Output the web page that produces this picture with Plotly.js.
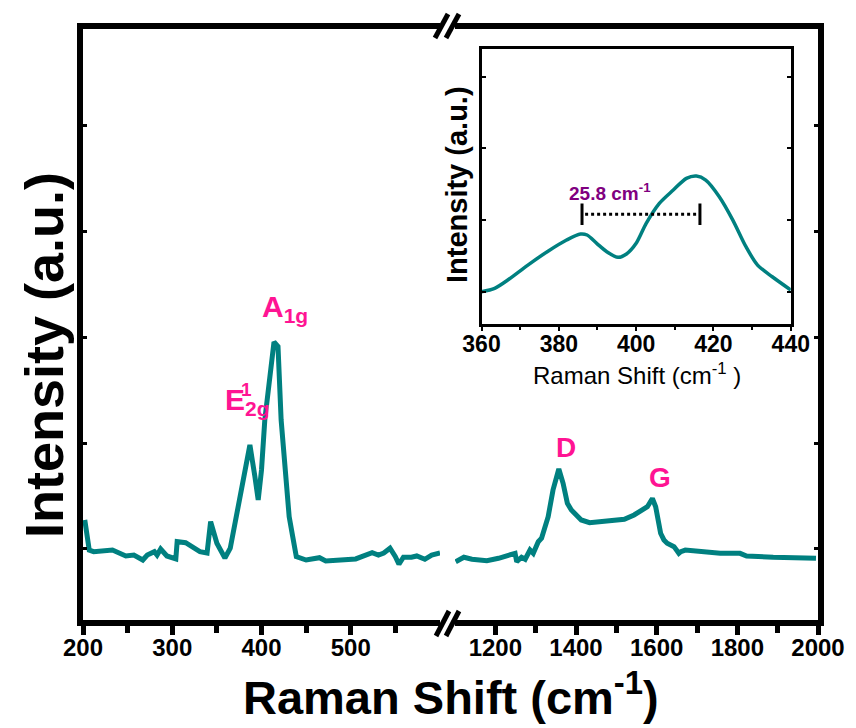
<!DOCTYPE html>
<html>
<head>
<meta charset="utf-8">
<script src="https://cdn.plot.ly/plotly-3.0.1.min.js"></script>
<style>html,body{margin:0;padding:0;background:#fff;}#chart{width:856px;height:728px;}</style>
</head>
<body>
<div id="chart"></div>
<script>
// ---------- data ----------
const lowShift = [202, 207, 212, 233, 248, 257, 267, 272, 280, 283, 287, 294, 304, 305.5, 315, 324, 331, 339, 343, 350, 359, 365, 372, 379.6, 387, 392.6, 396.3, 400, 403.7, 414, 418.5, 422, 426, 431, 435, 439, 450, 465, 472, 494, 505.5, 524, 531, 537, 544, 550, 554, 559, 568, 574, 583, 590.7, 600];
const lowIntensity = [1.274, 0.99, 0.975, 0.99, 0.934, 0.943, 0.896, 0.943, 0.975, 0.943, 1.0, 0.934, 0.906, 1.069, 1.059, 1.019, 0.975, 0.962, 1.258, 1.054, 0.915, 1.007, 1.305, 1.651, 1.981, 1.682, 1.462, 1.745, 2.217, 2.953, 2.91, 2.217, 1.745, 1.305, 1.116, 0.927, 0.896, 0.918, 0.887, 0.906, 0.906, 0.965, 0.943, 0.962, 1.007, 0.927, 0.856, 0.922, 0.922, 0.934, 0.903, 0.943, 0.962];

const highShift = [1101.6, 1122, 1142, 1179, 1208, 1241, 1249, 1253, 1265, 1274, 1286, 1294, 1306.5, 1314.6, 1319, 1331, 1343, 1357.4, 1368, 1378.6, 1388.5, 1400.7, 1413, 1433.7, 1478.7, 1519.8, 1544, 1564.8, 1577, 1589.4, 1597.5, 1609.8, 1618, 1626, 1643, 1655, 1660, 1671, 1716.6, 1757.5, 1806.7, 1823, 1889, 1938, 1995];
const highIntensity = [0.88, 0.922, 0.903, 0.89, 0.912, 0.943, 0.959, 0.88, 0.922, 0.903, 0.99, 0.959, 1.069, 1.101, 1.148, 1.305, 1.557, 1.755, 1.62, 1.431, 1.368, 1.321, 1.274, 1.248, 1.267, 1.28, 1.321, 1.375, 1.399, 1.476, 1.399, 1.148, 1.085, 1.054, 1.022, 0.959, 0.975, 0.99, 0.975, 0.959, 0.959, 0.934, 0.922, 0.922, 0.912];

const insetShift = [360, 363.4, 366.8, 372, 377, 382, 385.6, 387.3, 389.8, 392.4, 395.3, 397.5, 400, 402.6, 406, 409.6, 413, 415.6, 418, 421.5, 425, 428.4, 431.4, 435.2, 440];
const insetIntensity = [1.0, 1.047, 1.163, 1.372, 1.558, 1.721, 1.805, 1.791, 1.675, 1.558, 1.48, 1.526, 1.675, 1.954, 2.233, 2.419, 2.582, 2.614, 2.558, 2.326, 2.0, 1.628, 1.372, 1.209, 1.024];

// peak-separation marker (E2g and A1g positions in the inset)
const markerShift = [386, 416.5];
const markerLevel = 2.08;
const markerHalfHeight = 0.15;
const separationLabel = '25.8 cm<sup>-1</sup>';

const lowTicks = [200, 300, 400, 500];
const lowMinor = [250, 350, 450, 550];
const highTicks = [1200, 1400, 1600, 1800, 2000];
const highMinor = [1300, 1500, 1700, 1900];
const insetTicks = [360, 380, 400, 420, 440];

// ---------- styling ----------
const teal = '#008080';
const pink = '#FF1493';
const purple = '#800080';
const FONT = 'Liberation Sans, Arial, Helvetica, sans-serif';
const L = 83, R = 38, T = 29, B = 108, W = 856 - L - R, H = 728 - T - B;
const px = p => (p - L) / W;
const py = p => (728 - B - p) / H;

const traces = [
  {x: lowShift, y: lowIntensity, xaxis: 'x', yaxis: 'y', mode: 'lines', line: {color: teal, width: 5}, hoverinfo: 'skip'},
  {x: highShift, y: highIntensity, xaxis: 'x2', yaxis: 'y2', mode: 'lines', line: {color: teal, width: 5}, hoverinfo: 'skip'},
  {x: insetShift, y: insetIntensity, xaxis: 'x3', yaxis: 'y3', mode: 'lines', line: {color: teal, width: 3.5, shape: 'spline', smoothing: 0.8}, hoverinfo: 'skip'},
  {x: [markerShift[0], markerShift[0], null, markerShift[1], markerShift[1]],
   y: [markerLevel - markerHalfHeight, markerLevel + markerHalfHeight, null, markerLevel - markerHalfHeight, markerLevel + markerHalfHeight],
   xaxis: 'x3', yaxis: 'y3', mode: 'lines', line: {color: '#000', width: 3}, hoverinfo: 'skip'},
  {x: [markerShift[0] + 0.8, markerShift[1] - 0.8], y: [markerLevel, markerLevel],
   xaxis: 'x3', yaxis: 'y3', mode: 'lines', line: {color: '#000', width: 3, dash: 'dot'}, hoverinfo: 'skip'}
];

const tickFont = {family: FONT, size: 24, color: '#000', weight: 700};
const axBase = {showline: true, linecolor: '#000', linewidth: 6, showgrid: false, zeroline: false, fixedrange: true};

const layout = {
  width: 856, height: 728,
  margin: {l: L, r: R, t: T, b: B},
  paper_bgcolor: '#fff', plot_bgcolor: 'rgba(0,0,0,0)',
  showlegend: false,
  xaxis: Object.assign({}, axBase, {
    domain: [0, px(440)], range: [200, 600], anchor: 'y', mirror: true,
    tickmode: 'array', tickvals: lowTicks, ticktext: lowTicks.map(String),
    ticks: 'outside', ticklen: 9, tickwidth: 5, tickcolor: '#000', tickfont: tickFont, ticklabelstandoff: -8,
    minor: {tickmode: 'array', tickvals: lowMinor, ticks: 'outside', ticklen: 7, tickwidth: 5, tickcolor: '#000'}
  }),
  xaxis2: Object.assign({}, axBase, {
    domain: [px(455), 1], range: [1100, 2000], anchor: 'y2', mirror: true,
    tickmode: 'array', tickvals: highTicks, ticktext: highTicks.map(String),
    ticks: 'outside', ticklen: 9, tickwidth: 5, tickcolor: '#000', tickfont: tickFont, ticklabelstandoff: -8,
    minor: {tickmode: 'array', tickvals: highMinor, ticks: 'outside', ticklen: 7, tickwidth: 5, tickcolor: '#000'}
  }),
  yaxis: Object.assign({}, axBase, {
    domain: [0, 1], range: [0.33, 5.906], anchor: 'x', side: 'left',
    tickmode: 'array', tickvals: [1, 2, 3, 4, 5], showticklabels: false,
    ticks: 'inside', ticklen: 4, tickwidth: 3, tickcolor: '#000'
  }),
  yaxis2: Object.assign({}, axBase, {
    domain: [0, 1], range: [0.33, 5.906], anchor: 'x2', side: 'right',
    tickmode: 'array', tickvals: [1, 2, 3, 4, 5], showticklabels: false,
    ticks: 'inside', ticklen: 4, tickwidth: 3, tickcolor: '#000'
  }),
  xaxis3: {
    domain: [px(481.5), px(790.8)], range: [360, 440], anchor: 'y3',
    showline: true, linecolor: '#000', linewidth: 3, mirror: true, showgrid: false, zeroline: false, fixedrange: true,
    tickmode: 'array', tickvals: insetTicks, ticks: 'outside', ticklen: 4, tickwidth: 2, tickcolor: '#000',
    tickfont: {family: FONT, size: 23, color: '#000', weight: 700}, ticklabelstandoff: -7,
    minor: {dtick: 10, ticks: 'outside', ticklen: 3, tickwidth: 2, tickcolor: '#000'}
  },
  yaxis3: {
    domain: [py(324.2), py(48.8)], range: [0.547, 4.389], anchor: 'x3',
    showline: true, linecolor: '#000', linewidth: 3, mirror: 'ticks', showgrid: false, zeroline: false, fixedrange: true,
    tickmode: 'array', tickvals: [1, 2, 3, 4], showticklabels: false,
    ticks: 'inside', ticklen: 4, tickwidth: 2, tickcolor: '#000'
  },
  shapes: [
    // inset white background
    {type: 'rect', xref: 'paper', yref: 'paper', x0: px(481.5), x1: px(790.8), y0: py(324.2), y1: py(48.8), fillcolor: '#fff', line: {width: 0}, layer: 'below'},
    // axis break marks (bottom)
    {type: 'line', xref: 'paper', yref: 'paper', x0: px(436), y0: py(636), x1: px(449), y1: py(611), line: {color: '#000', width: 5}},
    {type: 'line', xref: 'paper', yref: 'paper', x0: px(446), y0: py(636), x1: px(459), y1: py(611), line: {color: '#000', width: 5}},
    // axis break marks (top)
    {type: 'line', xref: 'paper', yref: 'paper', x0: px(435), y0: py(38), x1: px(448), y1: py(14), line: {color: '#000', width: 5}},
    {type: 'line', xref: 'paper', yref: 'paper', x0: px(446), y0: py(38), x1: px(459), y1: py(14), line: {color: '#000', width: 5}}
  ],
  annotations: [
    {xref: 'paper', yref: 'paper', x: px(44), y: py(355), text: '<b>Intensity (a.u.)</b>', textangle: -90, showarrow: false,
     font: {family: FONT, size: 54, color: '#000'}, xanchor: 'center', yanchor: 'middle'},
    {xref: 'paper', yref: 'paper', x: px(451), y: py(694), text: '<b>Raman Shift (cm<sup>-1</sup>)</b>', showarrow: false,
     font: {family: FONT, size: 47, color: '#000'}, xanchor: 'center', yanchor: 'middle'},
    {xref: 'paper', yref: 'paper', x: px(457), y: py(185), text: '<b>Intensity (a.u.)</b>', textangle: -90, showarrow: false,
     font: {family: FONT, size: 29, color: '#000'}, xanchor: 'center', yanchor: 'middle'},
    {xref: 'paper', yref: 'paper', x: px(637), y: py(374), text: 'Raman Shift (cm<sup>-1</sup> )', showarrow: false,
     font: {family: FONT, size: 24, color: '#000'}, xanchor: 'center', yanchor: 'middle'},
    {xref: 'paper', yref: 'paper', x: px(610), y: py(192), text: '<b>' + separationLabel + '</b>', showarrow: false,
     font: {family: FONT, size: 19, color: purple}, xanchor: 'center', yanchor: 'middle'},
    {xref: 'paper', yref: 'paper', x: px(260), y: py(308), text: '<b>A<sub>1g</sub></b>', showarrow: false,
     font: {family: FONT, size: 30, color: pink}, xanchor: 'left', yanchor: 'middle'},
    {xref: 'paper', yref: 'paper', x: px(223), y: py(401), text: '<b>E<sub>2g</sub></b>', showarrow: false,
     font: {family: FONT, size: 30, color: pink}, xanchor: 'left', yanchor: 'middle'},
    {xref: 'paper', yref: 'paper', x: px(246.5), y: py(389), text: '<b>1</b>', showarrow: false,
     font: {family: FONT, size: 19, color: pink}, xanchor: 'center', yanchor: 'middle'},
    {xref: 'paper', yref: 'paper', x: px(565.5), y: py(447), text: '<b>D</b>', showarrow: false,
     font: {family: FONT, size: 28, color: pink}, xanchor: 'center', yanchor: 'middle'},
    {xref: 'paper', yref: 'paper', x: px(659.5), y: py(477), text: '<b>G</b>', showarrow: false,
     font: {family: FONT, size: 28, color: pink}, xanchor: 'center', yanchor: 'middle'}
  ]
};

Plotly.newPlot('chart', traces, layout, {staticPlot: true, displayModeBar: false});
</script>
</body>
</html>
